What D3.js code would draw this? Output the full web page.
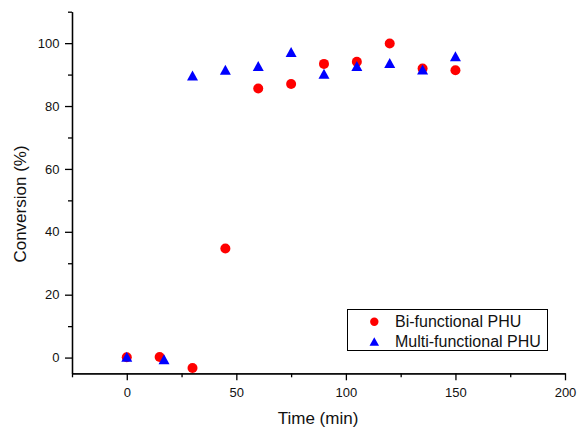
<!DOCTYPE html>
<html>
<head>
<meta charset="utf-8">
<script src="https://cdn.jsdelivr.net/npm/d3@7"></script>
<style>
  body { margin: 0; background: #fff; }
  svg { display: block; font-family: "Liberation Sans", Arial, sans-serif; }
</style>
</head>
<body>
<svg id="chart" width="578" height="427"></svg>
<script>
// ---- data ----
const biTime = [0, 15, 30, 45, 60, 75, 90, 105, 120, 135, 150];
const biConv = [0.1, 0.2, -3.3, 34.7, 85.6, 87.0, 93.4, 94.1, 99.9, 91.9, 91.4];
const multiTime = [0, 17, 30, 45, 60, 75, 90, 105, 120, 135, 150];
const multiConv = [0.3, -0.5, 89.7, 91.5, 92.7, 97.2, 90.3, 92.7, 93.7, 91.6, 95.8];
const seriesNames = ["Bi-functional PHU", "Multi-functional PHU"];
const xMajor = [0, 50, 100, 150, 200];
const xMinor = [-25, 25, 75, 125, 175];
const yMajor = [0, 20, 40, 60, 80, 100];
const yMinor = [10, 30, 50, 70, 90, 110];
const xTitle = "Time (min)";
const yTitle = "Conversion (%)";

// ---- layout ----
const svg = d3.select("#chart");
const pL = 72, pR = 565, pT = 11.7, pB = 373.3;
const x = d3.scaleLinear().domain([-25, 200]).range([pL, pR]);
const y = d3.scaleLinear().domain([-5, 110]).range([pB, pT]);

const axisW = 1.3;

// x axis
const gx = svg.append("g").attr("transform", `translate(0,${pB})`);
gx.call(d3.axisBottom(x).tickValues(xMajor).tickSize(7).tickPadding(7).tickSizeOuter(0));
const gxm = svg.append("g").attr("transform", `translate(0,${pB})`);
gxm.call(d3.axisBottom(x).tickValues(xMinor).tickSize(4).tickFormat("").tickSizeOuter(0));

// y axis
const gy = svg.append("g").attr("transform", `translate(${pL},0)`);
gy.call(d3.axisLeft(y).tickValues(yMajor).tickSize(7).tickPadding(5.5).tickSizeOuter(0));
const gym = svg.append("g").attr("transform", `translate(${pL},0)`);
gym.call(d3.axisLeft(y).tickValues(yMinor).tickSize(4).tickFormat("").tickSizeOuter(0));

svg.selectAll(".domain").attr("stroke", "#000").attr("stroke-width", axisW);
svg.selectAll(".tick line").attr("stroke", "#000").attr("stroke-width", axisW);
svg.selectAll(".tick text").attr("fill", "#111").style("font-size", "13px")
   .style("font-family", '"Liberation Sans", Arial, sans-serif');

// axis titles
svg.append("text").attr("x", 318).attr("y", 423.5).attr("text-anchor", "middle")
  .style("font-size", "17px").attr("fill", "#111").text(xTitle);
svg.append("text").attr("transform", "translate(26,204) rotate(-90)").attr("text-anchor", "middle")
  .style("font-size", "17px").attr("fill", "#111").text(yTitle);

// markers
const triPath = (w, h) => `M0,${-h/2}L${w/2},${h/2}L${-w/2},${h/2}Z`;

svg.append("g").selectAll("circle").data(biTime.map((t, i) => [t, biConv[i]]))
  .join("circle").attr("cx", d => x(d[0])).attr("cy", d => y(d[1])).attr("r", 5)
  .attr("fill", "#ff0000");

svg.append("g").selectAll("path").data(multiTime.map((t, i) => [t, multiConv[i]]))
  .join("path").attr("transform", d => `translate(${x(d[0])},${y(d[1])})`)
  .attr("d", triPath(11, 10)).attr("fill", "#0000ff");

// legend
const lg = svg.append("g");
lg.append("rect").attr("x", 347.5).attr("y", 309.5).attr("width", 200).attr("height", 41)
  .attr("fill", "#fff").attr("stroke", "#000").attr("stroke-width", 1);
lg.append("circle").attr("cx", 374.3).attr("cy", 321.7).attr("r", 4.2).attr("fill", "#ff0000");
lg.append("path").attr("transform", "translate(374.3,341.5)").attr("d", triPath(9.5, 8.5)).attr("fill", "#0000ff");
lg.append("text").attr("x", 395).attr("y", 326.7).style("font-size", "16px").attr("fill", "#111").text(seriesNames[0]);
lg.append("text").attr("x", 395).attr("y", 346.7).style("font-size", "16px").attr("fill", "#111").text(seriesNames[1]);
</script>
</body>
</html>
